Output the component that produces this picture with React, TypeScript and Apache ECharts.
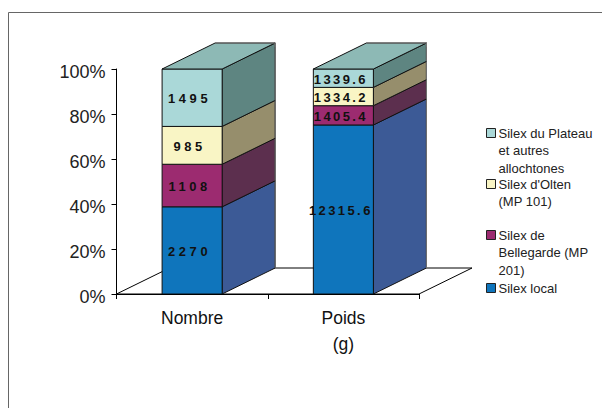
import React, { useEffect, useRef } from "react";
import * as echarts from "echarts";

const categories = ["Nombre", "Poids\n(g)"];
const seriesNames = ["Silex local", "Silex de Bellegarde (MP 201)", "Silex d'Olten (MP 101)", "Silex du Plateau et autres allochtones"];
const legendLines = [["Silex local"], ["Silex de", "Bellegarde (MP", "201)"], ["Silex d'Olten", "(MP 101)"], ["Silex du Plateau", "et autres", "allochtones"]];
const legendCenters = [288, 235, 184, 133];
const silexLocal = [2270, 12315.6];
const silexBellegarde = [1108, 1405.4];
const silexOlten = [985, 1334.2];
const silexPlateau = [1495, 1339.6];
const rawValues = [silexLocal, silexBellegarde, silexOlten, silexPlateau];
const frontColors = ["#0F75BC", "#9C2B70", "#F9F5C5", "#AAD8D8"];
const sideColors = ["#3C5A96", "#5C2F4E", "#968E6C", "#5E8581"];
const topColor = "#8DB9B5";
const yTicks = { min: 0, max: 100, interval: 20 };
const DX = 53;
const DY = -26;
const EDGE = "#111";
const BACK_EDGE = "#777";

const totals = categories.map((_, c) => rawValues.reduce((s, v) => s + v[c], 0));

function buildSeries(): any[] {
  const out: any[] = [];
  out.push({
    type: "custom",
    silent: true,
    z: 1,
    data: [[0, 0]],
    renderItem: (params: any) => {
      const g = params.coordSys;
      const l = g.x, r = g.x + g.width, b = g.y + g.height;
      return {
        type: "polygon",
        shape: { points: [[l, b], [l + DX, b + DY], [r + DX, b + DY], [r, b]] },
        style: { fill: "#fff", stroke: "#000", lineWidth: 1 },
      };
    },
  });
  seriesNames.forEach((name, si) => {
    const data = categories.map((_, c) => {
      let start = 0;
      for (let k = 0; k < si; k++) start += rawValues[k][c];
      return [c, ((start + rawValues[si][c]) / totals[c]) * 100, (start / totals[c]) * 100, rawValues[si][c]];
    });
    out.push({
      type: "custom",
      name,
      z: 2 + si,
      itemStyle: { color: frontColors[si] },
      encode: { x: 0, y: 1 },
      data,
      renderItem: (_p: any, api: any) => {
        const c = api.value(0);
        const top = api.coord([c, api.value(1)]);
        const bot = api.coord([c, api.value(2)]);
        const w = api.size([1, 0])[0] * 0.397;
        const x0 = top[0] - w / 2;
        const x1 = top[0] + w / 2;
        const stroke = { stroke: EDGE, lineWidth: 1 };
        const children: any[] = [
          { type: "polygon", shape: { points: [[x1, bot[1]], [x1 + DX, bot[1] + DY], [x1 + DX, top[1] + DY], [x1, top[1]]] }, style: { fill: sideColors[si], ...stroke } },
          { type: "line", shape: { x1: x1 + DX, y1: bot[1] + DY, x2: x1 + DX, y2: top[1] + DY }, style: { stroke: BACK_EDGE, lineWidth: 1 } },
          { type: "rect", shape: { x: x0, y: top[1], width: w, height: bot[1] - top[1] }, style: { fill: frontColors[si], ...stroke } },
        ];
        if (si === seriesNames.length - 1) {
          children.push({ type: "polygon", shape: { points: [[x0, top[1]], [x0 + DX, top[1] + DY], [x1 + DX, top[1] + DY], [x1, top[1]]] }, style: { fill: topColor, ...stroke } });
          children.push({ type: "polyline", shape: { points: [[x0 + DX, top[1] + DY], [x1 + DX, top[1] + DY], [x1 + DX, top[1] + DY + 4]] }, style: { fill: "none", stroke: BACK_EDGE, lineWidth: 1 } });
        }
        children.push({
          type: "text",
          style: {
            x: top[0] - 2.5,
            y: (top[1] + bot[1]) / 2 + 1,
            text: String(api.value(3)),
            align: "center",
            verticalAlign: "middle",
            fill: "#111",
            font: `bold ${c === 0 ? 12.9 : 13}px 'Liberation Sans'`,
          },
        });
        return { type: "group", children };
      },
    });
  });
  return out;
}

function buildLegends(): any[] {
  const lh = 17.5;
  return seriesNames.map((name, i) => {
    const lines = legendLines[i];
    const blanks = lines.length - 1;
    const height = Math.max(10, (2 * blanks + 1) * lh);
    return {
      show: true,
      orient: "vertical",
      left: 486,
      top: legendCenters[i] - 2.5 - height / 2,
      padding: 0,
      itemWidth: 9,
      itemHeight: 9,
      data: [name],
      icon: "rect",
      selectedMode: false,
      itemStyle: { borderColor: "#222", borderWidth: 1 },
      textStyle: { fontFamily: "Liberation Sans", fontSize: 13, color: "#222", lineHeight: lh, padding: [5, 0, 0, -2] },
      formatter: () => "\n".repeat(blanks) + lines.join("\n"),
    };
  });
}

export default function App() {
  const ref = useRef<HTMLDivElement>(null);
  useEffect(() => {
    const chart = echarts.init(ref.current!, undefined, { renderer: "svg" });
    chart.setOption({
      animation: false,
      backgroundColor: "#fff",
      grid: { left: 116.5, top: 69, width: 302.5, height: 225 },
      xAxis: {
        type: "category",
        data: categories,
        axisLine: { lineStyle: { color: "#000", width: 1 } },
        axisTick: { show: true, length: 5, lineStyle: { color: "#000" }, alignWithLabel: false },
        axisLabel: { fontFamily: "Liberation Sans", fontSize: 17.5, color: "#111", lineHeight: 26, margin: 11, interval: 0 },
        z: 10,
      },
      yAxis: {
        type: "value",
        ...yTicks,
        splitLine: { show: false },
        axisLine: { show: true, lineStyle: { color: "#000", width: 1 } },
        axisTick: { show: true, length: 5, lineStyle: { color: "#000" } },
        axisLabel: { fontFamily: "Liberation Sans", fontSize: 18, color: "#222", margin: 11, verticalAlign: "top", lineHeight: 5, formatter: "{value}%" },
      },
      legend: buildLegends(),
      series: buildSeries(),
      graphic: [
        { type: "polyline", silent: true, shape: { points: [[8.5, 408], [8.5, 12.5], [602, 12.5]] }, style: { fill: "none", stroke: "#666", lineWidth: 1 } },
      ],
    });
    return () => chart.dispose();
  }, []);
  return (
    <>
      <style>{`body{margin:0} text[style*="bold 13px"]{letter-spacing:2.4px} text[style*="bold 12.9px"]{letter-spacing:3.6px}`}</style>
      <div ref={ref} style={{ position: "fixed", left: 0, top: 0, width: 602, height: 408 }} />
    </>
  );
}
